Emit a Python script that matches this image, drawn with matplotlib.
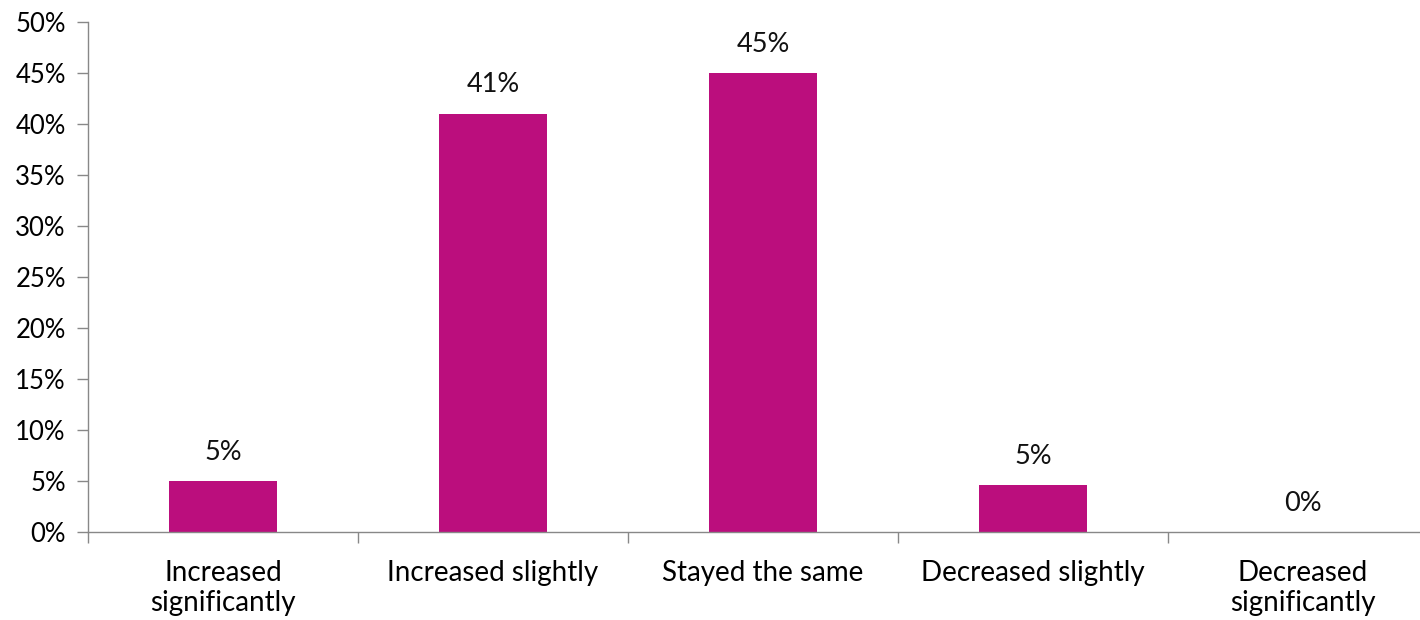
import matplotlib.pyplot as plt
from matplotlib.ticker import FixedLocator, NullFormatter

# chart values
categories = ['Increased\nsignificantly', 'Increased slightly', 'Stayed the same',
              'Decreased slightly', 'Decreased\nsignificantly']
values = [5.0, 41.0, 45.0, 4.6, 0.0]
value_labels = ['5%', '41%', '45%', '5%', '0%']
yticks = list(range(0, 55, 5))

plt.rcParams['font.family'] = ['Lato', 'DejaVu Sans']

fig = plt.figure(figsize=(14.2, 6.2), dpi=100)
ax = fig.add_axes([88 / 1420, 88 / 620, 1350 / 1420, 510 / 620])

x = list(range(len(categories)))
ax.bar(x, values, width=0.4, color='#BB0E7D', zorder=2)

for xi, v, lab in zip(x, values, value_labels):
    ax.text(xi, v + 1.6, lab, ha='center', va='bottom', fontsize=19.5, color='#111111')

ax.set_xlim(-0.5, len(categories) - 0.5)
ax.set_ylim(0, 50)
ax.set_yticks(yticks)
ax.set_yticklabels([f'{t}%' for t in yticks])

# ticks sit between categories, labels at centres
ax.xaxis.set_major_locator(FixedLocator([i - 0.5 for i in range(len(categories) + 1)]))
ax.xaxis.set_major_formatter(NullFormatter())
ax.xaxis.set_minor_locator(FixedLocator(x))
ax.set_xticklabels(categories, minor=True, linespacing=1.2)
ax.tick_params(axis='x', which='minor', length=0, pad=20, labelsize=20)
ax.tick_params(axis='x', which='major', length=8, color='#888888', width=1)
ax.tick_params(axis='y', length=8, color='#888888', width=1, pad=8, labelsize=18.5)

for s in ['top', 'right']:
    ax.spines[s].set_visible(False)
for s in ['left', 'bottom']:
    ax.spines[s].set_color('#888888')
    ax.spines[s].set_linewidth(1)

fig.savefig('out.png', dpi=100)
